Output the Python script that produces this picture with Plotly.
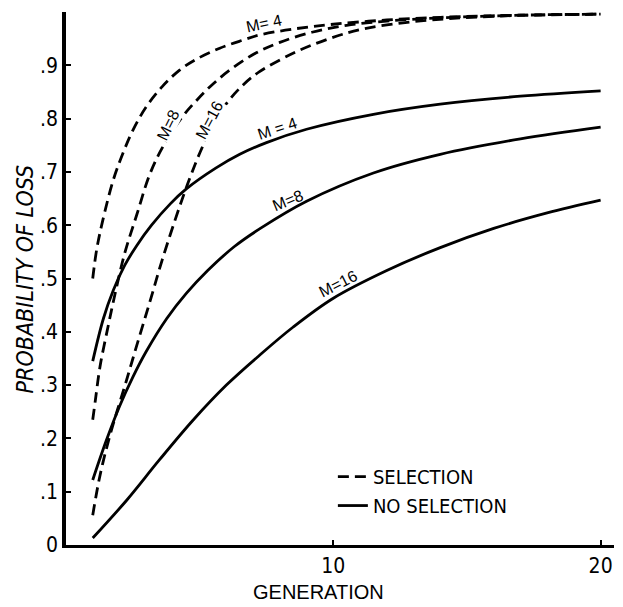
import plotly.graph_objects as go

# ---- data ----
sel_m4_gen = [1, 1.15, 1.38, 1.77, 2.13, 2.5, 3.0, 3.6, 4.25, 4.9, 5.75, 6.6, 7.24, 8.5, 10, 12, 14, 17, 20]
sel_m4_val = [0.50, 0.555, 0.61, 0.685, 0.735, 0.778, 0.822, 0.86, 0.891, 0.912, 0.932, 0.947, 0.957, 0.968, 0.977, 0.985, 0.99, 0.994, 0.996]

sel_m8_gen = [1, 1.1, 1.27, 1.57, 1.83, 2.2, 2.65, 3.13, 3.6, 4.3, 4.9, 5.5, 6.23, 7.1, 8.0, 9.2, 10.5, 12, 14, 17, 20]
sel_m8_val = [0.235, 0.272, 0.334, 0.409, 0.47, 0.548, 0.62, 0.695, 0.745, 0.80, 0.835, 0.865, 0.895, 0.923, 0.943, 0.962, 0.975, 0.983, 0.989, 0.994, 0.996]

sel_m16_gen = [1, 1.27, 1.64, 2.27, 2.65, 3.13, 3.6, 4.25, 4.63, 5.0, 5.5, 6.0, 6.6, 7.24, 8.6, 9.85, 11.1, 13, 16, 20]
sel_m16_val = [0.056, 0.13, 0.205, 0.31, 0.375, 0.455, 0.535, 0.635, 0.688, 0.735, 0.788, 0.828, 0.862, 0.888, 0.925, 0.95, 0.968, 0.982, 0.992, 0.996]

nos_m4_gen = [1, 1.4, 1.77, 2.2, 2.65, 3.2, 3.9, 4.5, 5.6, 6.5, 7.5, 9.0, 11.5, 14, 17, 20]
nos_m4_val = [0.345, 0.425, 0.478, 0.525, 0.562, 0.60, 0.64, 0.668, 0.707, 0.733, 0.755, 0.78, 0.808, 0.827, 0.842, 0.852]

nos_m8_gen = [1, 1.5, 2.0, 2.5, 3.0, 3.77, 4.5, 5.3, 6.3, 7.3, 9.0, 11.5, 14, 17, 20]
nos_m8_val = [0.122, 0.195, 0.26, 0.315, 0.363, 0.425, 0.472, 0.515, 0.56, 0.595, 0.645, 0.698, 0.733, 0.762, 0.784]

nos_m16_gen = [1, 2.27, 3.5, 4.75, 6.0, 7.24, 8.5, 10, 12, 14, 16, 18, 20]
nos_m16_val = [0.013, 0.084, 0.16, 0.234, 0.30, 0.356, 0.409, 0.463, 0.515, 0.558, 0.594, 0.623, 0.647]

y_tick_vals = [0, 0.1, 0.2, 0.3, 0.4, 0.5, 0.6, 0.7, 0.8, 0.9]
y_tick_text = ["0", ".1", ".2", ".3", ".4", ".5", ".6", ".7", ".8", ".9"]
x_tick_vals = [10, 20]
x_tick_text = ["10", "20"]

# curve labels
label_text = ["M= 4", "M=8", "M=16", "M = 4", "M=8", "M=16"]
label_gen = [7.4, 3.8, 5.35, 7.9, 8.3, 10.2]
label_val = [0.978, 0.788, 0.797, 0.782, 0.647, 0.49]
label_ang = [-12, -64, -62, -18, -22, -27]
label_bg = [False, True, True, False, False, False]

FONT = "Liberation Sans Narrow, DejaVu Sans Condensed, Liberation Sans, sans-serif"
FONT_W = "Liberation Sans, DejaVu Sans, sans-serif"
DASH = "11px,6px"

fig = go.Figure()

series = [
    (sel_m4_gen, sel_m4_val, DASH, "SELECTION", True),
    (sel_m8_gen, sel_m8_val, DASH, "SELECTION", False),
    (sel_m16_gen, sel_m16_val, DASH, "SELECTION", False),
    (nos_m4_gen, nos_m4_val, "solid", "NO SELECTION", True),
    (nos_m8_gen, nos_m8_val, "solid", "NO SELECTION", False),
    (nos_m16_gen, nos_m16_val, "solid", "NO SELECTION", False),
]
for gx, gy, dash, name, show in series:
    fig.add_trace(go.Scatter(
        x=gx, y=gy, mode="lines", name=name, showlegend=show,
        legendgroup="leg",
        line=dict(color="black", width=2.8, dash=dash, shape="spline", smoothing=1.0),
        hoverinfo="skip",
    ))

for t, gx, gy, a, bg in zip(label_text, label_gen, label_val, label_ang, label_bg):
    fig.add_annotation(x=gx, y=gy, xref="x", yref="y", text=t, showarrow=False,
                       textangle=a, bgcolor="white" if bg else "rgba(0,0,0,0)",
                       borderpad=0,
                       font=dict(family=FONT_W, size=16, color="black"))

# axis titles as annotations
fig.add_annotation(xref="paper", yref="paper", x=-0.075, y=0.5, xanchor="center", yanchor="middle",
                   text="<i>PROBABILITY OF LOSS</i>", textangle=-90, showarrow=False,
                   font=dict(family=FONT, size=23, color="black"))
fig.add_annotation(xref="paper", yref="paper", x=0.46, y=-0.088, xanchor="center", yanchor="middle",
                   text="GENERATION", showarrow=False,
                   font=dict(family=FONT_W, size=20, color="black"))

fig.update_layout(
    width=623, height=607,
    margin=dict(l=66, r=9, t=12, b=62, autoexpand=False),
    paper_bgcolor="white", plot_bgcolor="white",
    font=dict(family=FONT, color="black"),
    legend=dict(x=0.487, y=0.165, xanchor="left", yanchor="top",
                font=dict(family=FONT, size=20, color="black"),
                bgcolor="rgba(0,0,0,0)", tracegroupgap=0, itemwidth=30),
    showlegend=True,
)
fig.update_xaxes(
    range=[0, 20.5], showgrid=False, zeroline=False, automargin=False,
    showline=True, linecolor="black", linewidth=2.5,
    tickvals=x_tick_vals, ticktext=x_tick_text,
    ticks="inside", ticklen=5, tickwidth=2, tickcolor="black",
    tickfont=dict(family=FONT, size=21, color="black"),
)
fig.update_yaxes(
    range=[0, 1.0], showgrid=False, zeroline=False, automargin=False,
    showline=True, linecolor="black", linewidth=3.5,
    tickvals=y_tick_vals, ticktext=y_tick_text,
    ticks="inside", ticklen=5, tickwidth=2, tickcolor="black",
    tickfont=dict(family=FONT, size=21, color="black"),
)

fig.write_html(
    "out.html",
    config={"displayModeBar": False},
    post_script="document.body.style.margin='0';document.body.style.overflow='hidden';",
)
